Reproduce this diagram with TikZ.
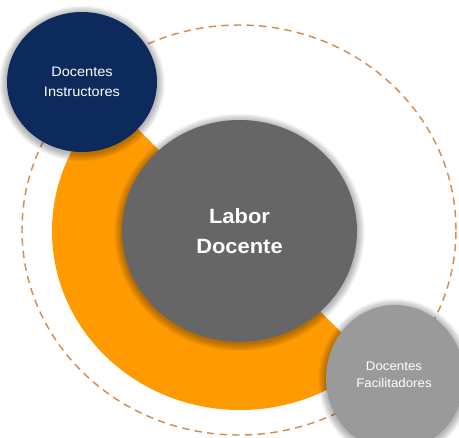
\documentclass[tikz,border=0pt]{standalone}
\usepackage{fontspec}
\setmainfont[FakeStretch=1.06]{Liberation Sans}
\usetikzlibrary{shapes.geometric}
\definecolor{navy}{HTML}{0C2A5B}
\definecolor{orng}{HTML}{FF9B00}
\definecolor{midgray}{HTML}{666666}
\definecolor{lightgray}{HTML}{9A9A9A}
\definecolor{dashcol}{HTML}{D98C4C}
\tikzset{
  bubble/.style={ellipse, inner sep=0pt, text=white, align=center},
  shadowring/.style={fill=black, fill opacity=0.045},
}
% soft shadow: centre x, centre y, x radius px, y radius px
\newcommand\mysoftshadow[4]{%
  \foreach \k in {1,...,7}{
    \fill[shadowring] (#1,#2+1.5) ellipse [x radius={(#3+\k*1.1)*0.75pt}, y radius={(#4+\k*1.1)*0.75pt}];
  }}
\begin{document}
\begin{tikzpicture}[x=0.75pt,y=-0.75pt]
\path[use as bounding box, clip] (0,0) rectangle (459,437);
\fill[white] (0,0) rectangle (459,437);
% dashed orbit
\draw[dashcol, line width=1.1pt, dash pattern=on 5.5pt off 4pt] (239,230) ellipse [x radius=162.75pt, y radius=153.75pt];
% orange half ring
\begin{scope}
\clip (-60,-69) -- (540,531) -- (-60,531) -- cycle;
\fill[orng] (240,231) ellipse [x radius=141pt, y radius=134.25pt];
\end{scope}
% circles
\mysoftshadow{82}{82}{75}{70}
\node[bubble, fill=navy, minimum width={150*0.75pt}, minimum height={140*0.75pt},
  font=\fontsize{10.3}{15}\selectfont] (instr) at (82,82) {Docentes\\Instructores};
\mysoftshadow{395}{378}{69}{73}
\node[bubble, fill=lightgray, minimum width={138*0.75pt}, minimum height={146*0.75pt}] (facil) at (395,378) {};
\node[font=\fontsize{9.4}{12.5}\selectfont, text=white, align=center] (faciltext) at (394,374.5) {Docentes\\Facilitadores};
\mysoftshadow{239.5}{231}{117.5}{111}
\node[bubble, fill=midgray, minimum width={235*0.75pt}, minimum height={222*0.75pt},
  font=\bfseries\fontsize{15.5}{23}\selectfont] (labor) at (239.5,231) {Labor\\Docente};
\end{tikzpicture}
\end{document}
